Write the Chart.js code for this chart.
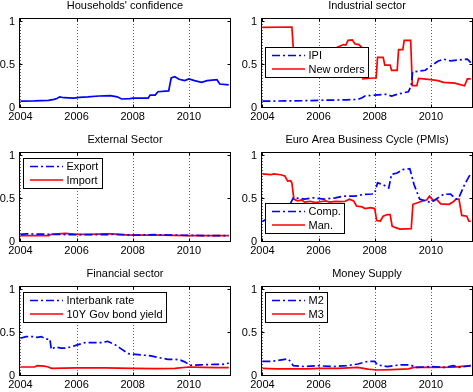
<!DOCTYPE html>
<html><head><meta charset="utf-8">
<script src="https://cdn.jsdelivr.net/npm/chart.js@4/dist/chart.umd.min.js"></script>
<style>
html,body{margin:0;padding:0;background:#fff;width:473px;height:392px;overflow:hidden;position:relative}
canvas{position:absolute}
</style></head><body>
<script>
// ---- Data (year, value) ----
const xTicks = [2004, 2006, 2008, 2010];
const yTicks = [0, 0.5, 1];

const households = [[2004.0,0.08],[2004.5,0.082],[2005.0,0.09],[2005.2,0.10],[2005.3,0.11],[2005.4,0.13],[2005.55,0.12],[2005.9,0.115],[2006.1,0.125],[2006.4,0.13],[2006.8,0.14],[2007.2,0.145],[2007.45,0.13],[2007.6,0.105],[2007.9,0.11],[2008.0,0.115],[2008.55,0.115],[2008.62,0.15],[2008.8,0.15],[2008.9,0.19],[2009.28,0.20],[2009.37,0.35],[2009.5,0.365],[2009.65,0.335],[2009.85,0.32],[2010.0,0.34],[2010.2,0.32],[2010.45,0.30],[2010.65,0.32],[2011.0,0.33],[2011.1,0.28],[2011.42,0.27]];

const ipi = [[2004.0,0.08],[2005.5,0.085],[2006.0,0.09],[2007.0,0.095],[2007.4,0.10],[2007.55,0.12],[2007.65,0.14],[2008.0,0.15],[2008.4,0.16],[2008.6,0.14],[2008.8,0.16],[2009.2,0.19],[2009.3,0.26],[2009.35,0.42],[2009.8,0.44],[2010.0,0.49],[2010.25,0.545],[2010.45,0.57],[2010.7,0.55],[2010.95,0.56],[2011.3,0.57],[2011.42,0.53]];
const newOrders = [[2004.0,0.94],[2005.05,0.945],[2005.1,0.70],[2005.3,0.66],[2005.8,0.62],[2006.3,0.64],[2006.6,0.68],[2006.67,0.71],[2006.89,0.74],[2006.97,0.735],[2007.05,0.79],[2007.2,0.795],[2007.29,0.75],[2007.44,0.74],[2007.53,0.71],[2007.58,0.34],[2007.95,0.35],[2008.05,0.35],[2008.1,0.59],[2008.3,0.59],[2008.36,0.50],[2008.55,0.50],[2008.6,0.44],[2008.8,0.44],[2008.85,0.68],[2009.0,0.68],[2009.05,0.79],[2009.28,0.79],[2009.34,0.26],[2009.5,0.26],[2009.56,0.345],[2010.0,0.33],[2010.25,0.32],[2010.45,0.30],[2010.85,0.29],[2011.2,0.26],[2011.3,0.34],[2011.42,0.34]];

const exportS = [[2004.0,0.09],[2004.2,0.095],[2005.0,0.09],[2006.0,0.085],[2006.5,0.085],[2007.0,0.085],[2007.5,0.09],[2008.0,0.08],[2008.8,0.085],[2009.5,0.08],[2010.5,0.075],[2011.42,0.075]];
const importS = [[2004.0,0.075],[2005.0,0.075],[2005.1,0.09],[2005.6,0.10],[2006.0,0.09],[2006.5,0.09],[2007.0,0.095],[2007.3,0.095],[2007.5,0.085],[2008.0,0.08],[2009.0,0.08],[2010.0,0.075],[2011.42,0.075]];

const comp = [[2004.0,0.24],[2004.5,0.33],[2005.0,0.45],[2005.1,0.515],[2005.3,0.51],[2005.5,0.50],[2005.8,0.515],[2006.2,0.50],[2006.6,0.515],[2006.9,0.535],[2007.3,0.535],[2007.6,0.555],[2007.9,0.56],[2008.0,0.57],[2008.1,0.69],[2008.3,0.67],[2008.5,0.63],[2008.6,0.79],[2008.8,0.805],[2009.0,0.845],[2009.25,0.855],[2009.4,0.67],[2009.6,0.50],[2009.8,0.48],[2010.0,0.46],[2010.25,0.515],[2010.45,0.555],[2010.7,0.56],[2010.9,0.50],[2011.0,0.52],[2011.2,0.67],[2011.42,0.80]];
const man = [[2004.0,0.795],[2004.3,0.785],[2004.4,0.795],[2004.65,0.785],[2004.8,0.77],[2004.9,0.71],[2005.0,0.715],[2005.05,0.69],[2005.12,0.50],[2005.25,0.48],[2005.4,0.49],[2005.5,0.465],[2005.7,0.475],[2005.9,0.46],[2006.05,0.47],[2006.25,0.48],[2006.4,0.465],[2006.6,0.475],[2006.8,0.47],[2006.95,0.475],[2007.1,0.50],[2007.25,0.48],[2007.35,0.42],[2007.55,0.41],[2007.65,0.39],[2007.85,0.40],[2008.0,0.39],[2008.07,0.25],[2008.2,0.245],[2008.3,0.30],[2008.45,0.32],[2008.55,0.32],[2008.62,0.185],[2008.72,0.17],[2008.9,0.15],[2009.3,0.155],[2009.36,0.44],[2009.55,0.46],[2009.7,0.48],[2009.85,0.49],[2009.95,0.535],[2010.1,0.48],[2010.2,0.50],[2010.35,0.445],[2010.65,0.44],[2010.8,0.47],[2010.9,0.50],[2011.0,0.50],[2011.1,0.31],[2011.28,0.30],[2011.35,0.245],[2011.42,0.24]];

const interbank = [[2004.0,0.44],[2004.2,0.46],[2004.5,0.46],[2004.6,0.45],[2004.75,0.46],[2004.9,0.43],[2005.05,0.43],[2005.1,0.31],[2005.25,0.34],[2005.45,0.325],[2005.6,0.325],[2005.8,0.34],[2006.0,0.36],[2006.3,0.39],[2006.7,0.39],[2006.95,0.39],[2007.1,0.405],[2007.35,0.37],[2007.55,0.325],[2007.85,0.26],[2008.0,0.255],[2008.3,0.245],[2008.65,0.235],[2009.0,0.21],[2009.25,0.195],[2009.5,0.195],[2009.7,0.185],[2009.85,0.165],[2010.05,0.125],[2010.4,0.13],[2010.9,0.135],[2011.2,0.135],[2011.42,0.15]];
const govBond = [[2004.0,0.105],[2004.5,0.105],[2004.6,0.12],[2004.85,0.115],[2005.0,0.105],[2005.1,0.09],[2006.0,0.095],[2007.0,0.095],[2008.0,0.09],[2008.8,0.085],[2009.5,0.09],[2010.0,0.105],[2010.5,0.10],[2011.0,0.098],[2011.42,0.098]];

const m2 = [[2004.0,0.17],[2004.3,0.17],[2004.5,0.18],[2004.9,0.20],[2005.0,0.17],[2005.1,0.12],[2005.5,0.11],[2006.0,0.12],[2006.5,0.11],[2007.0,0.12],[2007.4,0.14],[2007.75,0.17],[2008.0,0.17],[2008.1,0.13],[2008.45,0.11],[2008.9,0.13],[2009.25,0.13],[2009.5,0.10],[2010.0,0.11],[2010.5,0.10],[2010.8,0.12],[2011.0,0.10],[2011.42,0.12]];
const m3 = [[2004.0,0.09],[2004.5,0.083],[2005.0,0.083],[2005.6,0.083],[2006.0,0.09],[2006.7,0.09],[2007.4,0.10],[2007.75,0.08],[2008.1,0.07],[2008.6,0.075],[2009.2,0.083],[2009.4,0.10],[2010.0,0.10],[2010.8,0.103],[2011.42,0.12]];

// ---- Styles ----
const BLUE = '#0000ff', RED = '#ff0000';
const DASHDOT = [8, 3, 2, 3];
const FAMILY = '"Liberation Sans", Arial, Helvetica, sans-serif';
const FONT = '11px ' + FAMILY;

const panels = [
  {title: "Households' confidence", col:0, row:0, series:[{label:'Households', data:households, color:BLUE, dash:[]}], legend:null},
  {title: 'Industrial sector', col:1, row:0, series:[{label:'IPI', data:ipi, color:BLUE, dash:DASHDOT},{label:'New orders', data:newOrders, color:RED, dash:[]}], legend:{corner:'tl', dx:4.3, dy:29}},
  {title: 'External Sector', col:0, row:1, series:[{label:'Export', data:exportS, color:BLUE, dash:DASHDOT},{label:'Import', data:importS, color:RED, dash:[]}], legend:{corner:'tl', dx:3.7, dy:6}},
  {title: 'Euro Area Business Cycle (PMIs)', col:1, row:1, series:[{label:'Comp.', data:comp, color:BLUE, dash:DASHDOT},{label:'Man.', data:man, color:RED, dash:[]}], legend:{corner:'bl', dx:4.3, dy:9}},
  {title: 'Financial sector', col:0, row:2, series:[{label:'Interbank rate', data:interbank, color:BLUE, dash:DASHDOT},{label:'10Y Gov bond yield', data:govBond, color:RED, dash:[]}], legend:{corner:'tl', dx:3.7, dy:6}},
  {title: 'Money Supply', col:1, row:2, series:[{label:'M2', data:m2, color:BLUE, dash:DASHDOT},{label:'M3', data:m3, color:RED, dash:[]}], legend:{corner:'tl', dx:4.3, dy:6}}
];

// layout (positions only)
const COLS = [{left:0, width:232, padL:19, padR:1}, {left:237, width:236, padL:24, padR:0}];
const ROW_TOP = [0, 134, 268], CANVAS_H = 124, PAD_T = 18, PAD_B = 16;

const framePlugin = {
  id: 'frame',
  beforeDatasetsDraw(chart) {
    const {ctx, chartArea: a, scales: {x}} = chart;
    ctx.save();
    ctx.strokeStyle = 'rgba(0,0,0,0.6)'; ctx.lineWidth = 1; ctx.setLineDash([1, 2]);
    xTicks.forEach(v => {
      const px = Math.round(x.getPixelForValue(v)) + 0.5;
      ctx.beginPath(); ctx.moveTo(px, a.top); ctx.lineTo(px, a.bottom); ctx.stroke();
    });
    ctx.restore();
  },
  afterDatasetsDraw(chart, args, opts) {
    const {ctx, chartArea: a, scales: {x, y}} = chart;
    ctx.save();
    ctx.strokeStyle = '#000'; ctx.lineWidth = 1; ctx.setLineDash([]);
    const L = a.left + 0.5, R = a.right - 0.5, T = a.top + 0.5, B = a.bottom - 0.5;
    ctx.strokeRect(L, T, R - L, B - T);
    const tl = 3;
    ctx.beginPath();
    xTicks.forEach(v => {
      const px = Math.round(x.getPixelForValue(v)) + 0.5;
      ctx.moveTo(px, B); ctx.lineTo(px, B - tl);
      ctx.moveTo(px, T); ctx.lineTo(px, T + tl);
    });
    yTicks.forEach(v => {
      const py = Math.round(y.getPixelForValue(v)) - 0.5;
      ctx.moveTo(L, py); ctx.lineTo(L + tl, py);
      ctx.moveTo(R, py); ctx.lineTo(R - tl, py);
    });
    ctx.stroke();

    // legend
    const lg = opts.legend;
    if (lg) {
      ctx.font = FONT;
      const ds = chart.data.datasets;
      const tw = Math.max(...ds.map(d => ctx.measureText(d.label).width));
      const w = Math.round(6.5 + 33 + 3.5 + tw + 4), h = 30;
      const x0 = Math.round(a.left + lg.dx) + 0.5;
      const y0 = Math.round(lg.corner === 'tl' ? a.top + lg.dy : a.bottom - lg.dy - h) + 0.5;
      ctx.fillStyle = '#fff'; ctx.fillRect(x0, y0, w, h);
      ctx.strokeStyle = '#000'; ctx.lineWidth = 1; ctx.strokeRect(x0, y0, w, h);
      ds.forEach((d, i) => {
        const cy = y0 + 8 + i * 13.5;
        ctx.save();
        ctx.strokeStyle = d.borderColor; ctx.lineWidth = d.borderWidth; ctx.setLineDash(d.borderDash || []);
        ctx.beginPath(); ctx.moveTo(x0 + 6.5, cy); ctx.lineTo(x0 + 39.5, cy); ctx.stroke();
        ctx.restore();
        ctx.fillStyle = '#000'; ctx.textAlign = 'left'; ctx.textBaseline = 'middle';
        ctx.fillText(d.label, x0 + 43, cy + 0.5);
      });
    }
    // title
    ctx.font = FONT; ctx.fillStyle = '#000'; ctx.textAlign = 'center'; ctx.textBaseline = 'middle';
    ctx.fillText(opts.title, (a.left + a.right) / 2, a.top - 12);
    ctx.restore();
  }
};

panels.forEach(p => {
  const c = COLS[p.col];
  const cv = document.createElement('canvas');
  cv.width = c.width; cv.height = CANVAS_H;
  cv.style.left = c.left + 'px'; cv.style.top = ROW_TOP[p.row] + 'px';
  cv.style.width = c.width + 'px'; cv.style.height = CANVAS_H + 'px';
  document.body.appendChild(cv);
  new Chart(cv, {
    type: 'line',
    data: {
      datasets: p.series.map(s => ({
        label: s.label,
        data: s.data.map(([t, v]) => ({x: t, y: v})),
        borderColor: s.color, backgroundColor: s.color,
        borderWidth: 1.7, borderDash: s.dash,
        pointRadius: 0, fill: false, tension: 0
      }))
    },
    options: {
      responsive: false, animation: false, devicePixelRatio: 1,
      layout: {padding: {top: PAD_T, right: c.padR, left: 0, bottom: 0}},
      plugins: {
        legend: {display: false}, tooltip: {enabled: false}, title: {display: false},
        frame: {title: p.title, legend: p.legend}
      },
      scales: {
        x: {
          type: 'linear', min: 2003.95, max: 2011.5,
          afterBuildTicks: ax => { ax.ticks = xTicks.map(v => ({value: v})); },
          afterFit: ax => { ax.height = PAD_B; },
          grid: {display: false, drawTicks: false, tickLength: 0}, border: {display: false},
          ticks: {font: {family: FAMILY, size: 11}, color: '#000', padding: 2, maxRotation: 0, autoSkip: false, callback: v => String(v)}
        },
        y: {
          min: 0, max: 1.05,
          afterBuildTicks: ax => { ax.ticks = yTicks.map(v => ({value: v})); },
          afterFit: ax => { ax.width = c.padL; },
          grid: {display: false, drawTicks: false, tickLength: 0}, border: {display: false},
          ticks: {font: {family: FAMILY, size: 11}, color: '#000', padding: 4, callback: v => String(v)}
        }
      }
    },
    plugins: [framePlugin]
  });
});
</script>
</body></html>
